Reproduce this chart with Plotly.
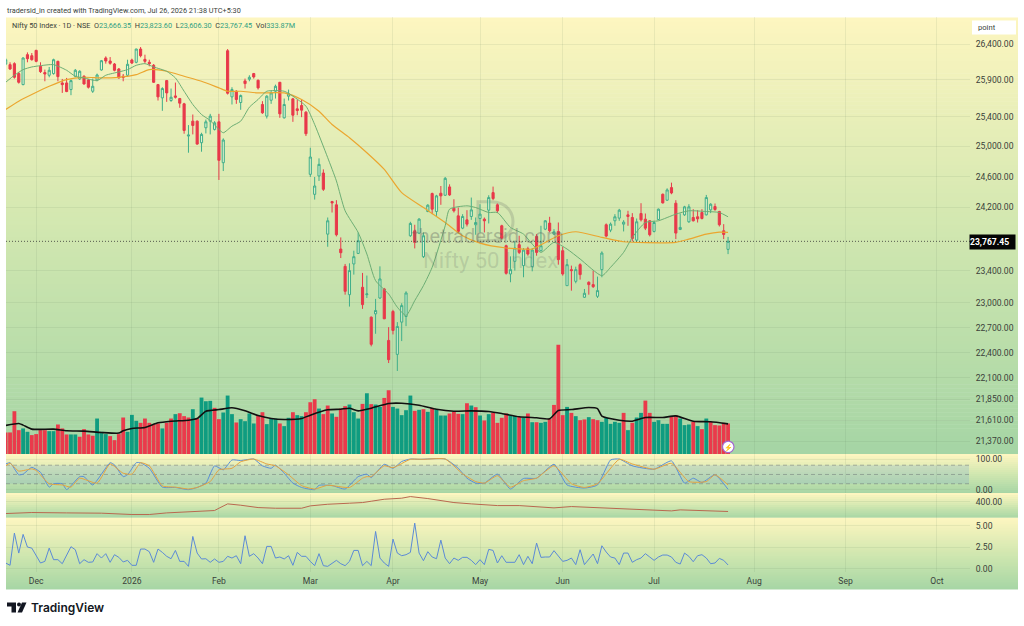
import math
import plotly.graph_objects as go

W, H = 1024, 626
PRICE_TICKS = [26400, 25900, 25400, 25000, 24600, 24200, 23400, 23000, 22700, 22400, 22100, 21850, 21610, 21370]
MONTH_TICKS = [7, 29, 49, 70, 89, 109, 128, 149, 172, 193, 214]
MONTH_LABELS = ["Dec", "2026", "Feb", "Mar", "Apr", "May", "Jun", "Jul", "Aug", "Sep", "Oct"]

opens = [
26120,26112,26126,25988,25836,26251,26237,26311,26089,26002,
25965,25988,26158,25859,25859,25768,25951,25914,25951,25900,
25745,25900,26038,26205,26163,26121,26052,25951,25965,26177,
26145,26330,26186,26145,26103,25836,25654,25891,25618,25681,
25645,25573,25138,25338,25338,25049,25249,25338,25227,25329,
24784,26306,25668,25745,25591,25887,25910,25988,25896,25564,
25406,25622,25745,25868,25383,25677,25641,25505,25550,25460,
24631,24370,24609,24648,23859,24276,24234,23670,23453,23102,
23483,23615,23193,23102,22827,22867,23061,23172,22546,22896,
22379,22767,22835,23838,23901,23872,23574,24148,24380,24148,
24384,24358,24466,24191,24092,23935,24041,24084,23978,24058,
24050,24165,24392,24234,23965,23712,23358,23516,23725,23462,
23674,23449,23830,23649,23922,23999,23859,23893,23649,23213,
23412,23267,23474,23070,23255,23226,23082,23412,23978,23910,
24029,24063,23986,24105,24071,23783,24122,24050,24029,23893,
24046,24371,24294,24457,24255,23918,24105,24016,24071,24080,
24135,24105,24169,24212,24148,23901,23666.35]
highs = [
26205,26145,26145,26011,26214,26283,26274,26320,26145,26043,
26080,26195,26167,25914,25928,25905,26052,26034,25965,25914,
25919,25988,26177,26228,26218,26135,26066,25983,26181,26195,
26334,26358,26251,26181,26121,25845,25800,25900,25782,25864,
25654,25586,25285,25428,25347,25182,25360,25437,25338,25437,
25107,26330,25800,25759,25700,25919,25965,25997,25905,25609,
25691,25754,25836,25873,25645,25768,25654,25632,25632,25473,
24982,24596,24841,24696,24071,24285,24294,23817,23483,23491,
23649,23880,23371,23338,22835,23050,23453,23185,22706,22916,
22767,22997,23144,24016,23978,24063,23880,24242,24392,24363,
24478,24596,24500,24306,24199,24114,24165,24328,24071,24242,
24071,24358,24470,24251,23978,23725,23578,23775,23838,23683,
23699,23683,23859,23965,24037,24080,23922,24007,23699,23545,
23462,23449,23491,23172,23267,23400,23325,23641,23995,24007,
24114,24182,24037,24157,24127,24058,24255,24122,24037,24029,
24186,24380,24448,24522,24294,24122,24221,24242,24178,24165,
24178,24362,24255,24251,24157,23986,23823.60]
lows = [
26105,26038,25919,25850,25827,26145,26168,26145,25997,25882,
25937,25974,25882,25722,25732,25691,25937,25900,25836,25782,
25722,25882,26029,26126,26112,26020,25919,25882,25946,26121,
26131,26214,26131,26089,25859,25618,25478,25600,25600,25645,
25519,25169,24916,25160,25022,24929,25173,25160,25213,24557,
24674,25700,25564,25573,25492,25782,25882,25919,25768,25437,
25374,25573,25645,25383,25374,25618,25329,25419,25392,25138,
24596,24302,24544,24414,23699,24135,23830,23557,23102,22956,
23350,23607,22928,23061,22475,22626,23050,22803,22276,22618,
22182,22538,22718,23825,23678,23859,23557,24139,24114,24092,
24234,24350,24350,24135,23872,23922,23956,24041,23851,23880,
23880,23995,24294,24127,23792,23350,23255,23400,23607,23317,
23586,23391,23586,23641,23910,23880,23851,23474,23337,23213,
23151,23242,23288,23061,23102,23184,23061,23317,23817,23884,
23965,24029,23893,23965,23767,23767,24020,23910,23830,23880,
24037,24251,24285,24371,23796,23910,24092,24003,24020,24007,
24046,24097,24127,24157,23956,23796,23606.30]
closes = [
26180,26052,25937,25868,26205,26195,26181,26158,26015,25983,
26034,26181,25946,25836,25741,25891,26034,26020,25845,25800,
25813,25969,26167,26163,26131,26034,25928,25937,26117,26135,
26330,26237,26158,26126,25868,25668,25782,25722,25663,25663,
25582,25213,25151,25280,25031,25160,25329,25406,25316,24815,
25085,25718,25768,25632,25686,25850,25937,25942,25791,25451,
25677,25722,25813,25437,25564,25709,25419,25482,25487,25169,
24859,24478,24762,24435,24029,24259,23851,23624,23143,23400,
23574,23775,22980,23111,22499,22908,23296,22807,22316,22666,
22714,22968,23123,23995,23754,24050,23838,24229,24178,24350,
24350,24578,24362,24157,23893,24084,23986,24169,24007,24114,
24029,24328,24315,24157,23808,23366,23412,23683,23628,23657,
23607,23657,23628,23712,24029,23901,23889,23537,23358,23474,
23400,23412,23350,23119,23226,23201,23152,23620,23834,23986,
24080,24165,24012,24084,23804,24016,24041,23935,23851,24007,
24178,24259,24427,24388,23872,23944,24208,24208,24029,24054,
24058,24328,24242,24174,23978,23855,23767.45]
bars = list(range(len(closes)))

green_ma_bar = [0,2,4,6,8,11,14,16,18,21,23,26,28,30,32,34,37,39,41,43,45,47,49,50,52,54,56,58,60,64,66,69,71,74,76,78,81,83,85,88,90,92,94,96,98,101,102,106,108,111,113,116,119,121,123,126,129,132,137,139,142,144,147,150,154,157,161,164,166]
green_ma = [25868,25965,26043,26080,26098,26112,26034,25951,25928,25891,25965,26011,26043,26103,26126,26080,26020,25928,25745,25564,25428,25347,25227,25182,25271,25338,25527,25632,25745,25745,25677,25541,25293,24850,24544,24157,23880,23607,23275,23111,22948,22847,23029,23213,23441,23965,24178,24221,24199,24135,24135,23944,23859,23733,23628,23754,23670,23545,23337,23441,23628,23817,24007,24029,24114,24157,24148,24135,24080]
orange_ma_bar = [0,3,6,10,14,18,22,26,30,33,37,41,45,49,51,54,58,64,68,72,75,79,83,87,91,96,101,105,109,115,119,121,127,131,137,142,147,154,157,161,164,166]
orange_ma = [25496,25609,25700,25813,25905,25937,25928,25937,25974,26043,26020,25951,25882,25791,25745,25745,25722,25722,25632,25473,25293,25116,24916,24696,24392,24199,24007,23838,23745,23683,23670,23670,23838,23889,23817,23762,23750,23754,23796,23859,23884,23880]

volumes = [
236,236,468,261,280,243,207,218,261,261,
250,250,323,280,214,214,214,189,272,214,
200,388,243,218,196,152,218,399,243,428,
363,341,388,341,327,334,280,341,388,436,
446,414,399,490,388,617,577,581,505,381,
454,639,436,345,381,359,443,334,417,457,
327,388,388,334,305,396,457,425,414,457,
566,599,497,436,530,443,407,497,523,541,
457,388,548,664,545,541,515,613,697,515,
497,425,479,639,472,483,490,461,505,490,
421,421,443,461,439,436,555,530,512,421,
367,436,450,341,396,443,425,417,407,399,
443,348,348,341,352,385,537,1194,425,515,
450,414,370,378,403,381,370,352,396,330,
352,341,450,261,341,399,450,584,450,352,
370,330,330,407,425,388,316,323,352,305,
272,388,352,316,312,341,334]
volume_dir = list(
"rrrrggrrrr" "ggrrrggrrr" "rgggrrrrgg" "grrrrrgrrg" "rrrgrgggrr"
"gggrggggrr" "gggrggrggr" "rrgrrgrrrg" "ggrgrggrrg" "ggggrgrgrg"
"ggrrrgrgrg" "rgrrrrggrg" "rgrggrrrrg" "rgrrgrrggg" "ggrgrggrrg"
"gggrrgggrg" "rgrrrrr")
vol_ma_bar = [0,3,4,6,8,11,14,18,22,26,27,29,32,35,38,42,44,46,49,52,55,58,61,64,68,70,74,77,79,81,84,88,91,95,99,103,107,111,114,118,122,125,127,130,134,136,137,141,144,147,151,154,158,162,166]
vol_ma = [312,334,316,272,269,272,254,250,236,229,254,280,290,341,359,370,388,468,486,505,472,421,388,378,388,425,483,490,501,472,501,552,555,534,490,468,472,465,443,407,396,385,476,486,508,497,414,370,359,399,399,417,359,352,330]

stoch_k_bar = [0,1,3,4,6,8,10,11,13,14,17,18,20,24,25,27,28,30,31,33,36,39,42,44,46,48,50,52,54,57,59,61,62,64,66,68,71,72,75,78,81,83,84,87,89,91,93,95,101,104,106,108,110,113,116,119,122,126,129,133,136,139,141,144,149,153,156,158,160,163,166]
stoch_k = [84,88,49,51,73,57,9,20,20,1,43,43,16,88,81,43,49,88,88,70,9,8,1,8,22,78,65,97,95,100,78,70,80,54,22,8,1,15,14,3,43,51,40,83,70,92,100,99,100,70,38,22,22,51,3,37,38,83,16,6,16,97,100,78,67,94,22,38,24,49,2]
stoch_d_bar = [0,1,3,6,7,10,13,15,17,21,24,27,29,31,33,36,39,42,44,47,49,52,54,57,60,62,65,68,71,74,79,82,83,84,87,89,93,96,101,105,108,110,113,116,119,122,126,130,133,136,141,144,149,153,157,161,163,166]
stoch_d = [78,86,61,68,63,20,16,9,38,22,84,54,51,88,78,13,9,3,8,27,65,70,91,100,84,78,49,14,3,15,8,38,43,43,78,72,99,99,100,52,27,22,46,9,30,38,78,20,8,20,99,84,67,86,27,27,49,16]

atr_bar = [0,6,14,22,29,33,37,41,45,48,49,51,54,58,62,68,70,74,79,82,84,87,91,93,97,103,107,113,118,126,130,136,138,141,147,153,155,160,166]
atr = [242,256,251,247,229,229,251,260,278,283,314,373,355,323,314,314,346,368,382,391,409,436,450,472,445,391,373,350,350,319,337,319,323,305,296,278,292,283,270]

vol_ratio = [
.66,.39,4.15,1.82,4.0,2.52,2.40,1.51,.66,.85,
2.40,1.05,1.05,.58,1.51,2.56,2.21,.58,1.05,.74,
.78,1.75,1.24,1.75,.74,1.63,1.32,.78,.97,.39,
.39,2.29,2.29,1.98,.74,2.29,1.90,1.44,1.16,2.13,
.85,.85,.27,3.76,1.82,1.13,1.16,.74,1.13,.74,
.85,1.44,1.24,1.51,.58,3.84,1.44,1.75,1.24,.58,
2.60,2.60,1.24,1.36,1.13,1.51,.39,1.90,1.44,1.44,
.85,.35,1.75,.35,.27,.66,.97,.58,.35,.85,
2.13,2.13,.35,.85,.35,4.34,1.24,.66,.27,3.45,
1.82,1.51,1.63,1.90,5.31,1.82,.93,1.98,1.36,1.16,
3.33,1.24,.58,1.24,.97,1.32,1.32,.97,.47,1.05,
.47,2.25,2.13,.66,1.51,.74,.74,.74,1.63,.47,
1.44,.58,2.99,1.32,1.36,1.36,2.10,1.44,.85,.97,
1.24,.47,2.21,.47,1.05,1.71,.58,2.67,1.94,1.36,
1.24,.47,1.82,1.82,.74,1.05,1.24,1.75,1.36,.97,
1.36,1.59,1.59,1.36,.74,.54,1.82,1.44,.81,1.51,
1.63,1.24,.58,.66,1.20,.97,.43]

for name, arr in dict(h=highs, l=lows, c=closes, v=volumes, d=volume_dir, r=vol_ratio).items():
    assert len(arr) == len(opens), (name, len(arr), len(opens))

FONT = "Roboto"
TXT = "#3a3f3a"
RED, GREEN = "#e8394a", "#3fae8a"
VRED, VGREEN = "#ea3a4b", "#0f9c80"
XR = [0.07, 221.6]
SHIFT = 1.5

def px(x): return x / W
def py(y): return 1 - (y + SHIFT) / H

STOPS = [(0, (253, 246, 192)), (.5, (208, 231, 176)), (1, (165, 213, 165))]
def grad(t):
    for (a, ca), (b, cb) in zip(STOPS, STOPS[1:]):
        if t <= b:
            f = (t - a) / (b - a)
            return "rgb(%d,%d,%d)" % tuple(ca[k] + (cb[k] - ca[k]) * f for k in range(3))
    return "rgb(165,213,165)"

shapes = []
for top, bot, step in [(16, 454, 4), (454, 493, 2), (493, 518, 2), (518, 590, 2)]:
    y = top
    while y < bot:
        y2 = min(y + step, bot)
        shapes.append(dict(type="rect", xref="paper", yref="paper", layer="below",
                           x0=px(6), x1=px(1018), y0=py(y2 + (0.6 if y2 < bot else 0)), y1=py(y),
                           fillcolor=grad((y - top) / (bot - top)), line=dict(width=0)))
        y = y2
# stochastic band and levels
shapes.append(dict(type="rect", xref="paper", yref="y3", layer="below", x0=px(6), x1=px(969), y0=20, y1=80,
                   fillcolor="rgba(110,160,215,0.22)", line=dict(width=0)))
for lvl in (20, 50, 80):
    shapes.append(dict(type="line", xref="paper", yref="y3", layer="below", x0=px(6), x1=px(969), y0=lvl, y1=lvl,
                       line=dict(color="rgba(110,120,120,0.65)", width=0.8, dash="4px,3px")))
# watermark logo outline
shapes.append(dict(type="path", xref="paper", yref="paper", layer="below", fillcolor="rgba(0,0,0,0)",
                   line=dict(color="rgba(95,100,95,0.22)", width=3),
                   path=f"M {px(478)} {py(201)} L {px(490)} {py(201)} C {px(510)} {py(201)} {px(513)} {py(215)} {px(513)} {py(221)} "
                        f"C {px(513)} {py(228)} {px(508)} {py(240)} {px(490)} {py(240)} L {px(478)} {py(240)} Z"))
# "point" box
shapes.append(dict(type="rect", xref="paper", yref="paper", x0=px(972), x1=px(1016), y0=py(33), y1=py(19),
                   fillcolor="white", line=dict(width=0)))
# flash badge
shapes.append(dict(type="circle", xref="paper", yref="paper", x0=px(722.5), x1=px(734), y0=py(452.5), y1=py(441),
                   fillcolor="white", line=dict(color="#a368cf", width=1.2)))
# logo
INK = "#131722"
shapes.append(dict(type="path", xref="paper", yref="paper", fillcolor=INK, line=dict(width=0),
                   path=f"M {px(7)} {py(603)} L {px(16)} {py(603)} L {px(16)} {py(613)} L {px(11.5)} {py(613)} L {px(11.5)} {py(607)} L {px(7)} {py(607)} Z"))
shapes.append(dict(type="circle", xref="paper", yref="paper", fillcolor=INK, line=dict(width=0),
                   x0=px(17), x1=px(21), y0=py(607), y1=py(603)))
shapes.append(dict(type="path", xref="paper", yref="paper", fillcolor=INK, line=dict(width=0),
                   path=f"M {px(22)} {py(603)} L {px(26.5)} {py(603)} L {px(22)} {py(613)} L {px(17.5)} {py(613)} Z"))

fig = go.Figure()
fig.add_trace(go.Bar(x=bars, y=volumes, width=0.88, xaxis="x", yaxis="y",
                     marker=dict(color=[VRED if d == "r" else VGREEN for d in volume_dir], line=dict(width=0))))
fig.add_trace(go.Scatter(x=vol_ma_bar, y=vol_ma, mode="lines", xaxis="x", yaxis="y",
                         line=dict(color="#111111", width=1.6, shape="spline", smoothing=0.5)))
fig.add_trace(go.Scatter(x=XR, y=[closes[-1], closes[-1]], mode="lines", xaxis="x", yaxis="y2",
                         line=dict(color="#333", width=0.8, dash="1px,2px")))
fig.add_trace(go.Scatter(x=orange_ma_bar, y=orange_ma, mode="lines", xaxis="x", yaxis="y2",
                         line=dict(color="#eba62f", width=1.2, shape="spline", smoothing=0.6)))
fig.add_trace(go.Scatter(x=green_ma_bar, y=green_ma, mode="lines", xaxis="x", yaxis="y2",
                         line=dict(color="#6cad74", width=1, shape="spline", smoothing=0.6)))
fig.add_trace(go.Candlestick(x=bars, open=opens, high=highs, low=lows, close=closes, xaxis="x", yaxis="y2",
                             whiskerwidth=0,
                             increasing=dict(line=dict(color=GREEN, width=1), fillcolor="rgba(225,245,225,0.55)"),
                             decreasing=dict(line=dict(color=RED, width=1), fillcolor=RED)))
fig.add_trace(go.Scatter(x=stoch_k_bar, y=stoch_k, mode="lines", xaxis="x", yaxis="y3",
                         line=dict(color="#5b8fd6", width=1, shape="spline", smoothing=0.5)))
fig.add_trace(go.Scatter(x=stoch_d_bar, y=stoch_d, mode="lines", xaxis="x", yaxis="y3",
                         line=dict(color="#e5a33e", width=1, shape="spline", smoothing=0.5)))
fig.add_trace(go.Scatter(x=atr_bar, y=atr, mode="lines", xaxis="x", yaxis="y4", line=dict(color="#b9684f", width=1)))
fig.add_trace(go.Scatter(x=bars, y=vol_ratio, mode="lines", xaxis="x", yaxis="y5", line=dict(color="#5b8ad6", width=1)))

GRID = "rgba(90,120,90,0.10)"
tick = dict(color=TXT, size=8.6, family=FONT)
def yax(dom_top, dom_bot, rng, vals, **kw):
    d = dict(domain=[py(dom_bot), py(dom_top)], range=rng, tickvals=vals, tickformat=",.2f", side="right",
             anchor="x", showgrid=True, gridcolor=GRID, gridwidth=1, zeroline=False, showline=False,
             ticks="outside", ticklen=3, tickcolor="rgba(0,0,0,0)", tickfont=tick, fixedrange=True)
    d.update(kw)
    return d

anns = []
def note(x, y, text, size=8, color=TXT, xanchor="left", **kw):
    anns.append(dict(xref="paper", yref="paper", x=px(x), y=py(y), text=text, showarrow=False, xanchor=xanchor,
                     yanchor="middle", align="left", font=dict(family=FONT, size=size, color=color), borderpad=0, **kw))

note(6, 9, "tradersid_in created with TradingView.com, Jul 26, 2026 21:38 UTC+5:30", size=7.3)
G = "#2f9f82"
note(11, 24, "Nifty 50 Index · 1D · NSE  "
     f"O<span style='color:{G}'>23,666.35</span>  H<span style='color:{G}'>23,823.60</span>  "
     f"L<span style='color:{G}'>23,606.30</span>  C<span style='color:{G}'>23,767.45</span>  "
     f"Vol<span style='color:{G}'>333.87M</span>", size=7.3)
note(977, 26, "point", size=7.6)
note(992.5, 241, "<b>23,767.45</b>", size=8.6, color="white", xanchor="center", bgcolor="#050505", width=45, height=14)
note(488, 235, "thetradersid.com", size=20, color="rgba(95,100,95,0.38)", xanchor="center")
note(490, 260, "Nifty 50 Index", size=22, color="rgba(95,100,95,0.20)", xanchor="center")
note(728.2, 447, "⚡", size=7, color="#a368cf", xanchor="center")
anns.append(dict(xref="paper", yref="paper", x=px(29), y=py(608), text="TradingView", showarrow=False,
                 xanchor="left", yanchor="middle", font=dict(family="Inter", size=12, weight=600, color=INK)))

p_top = 26400 * math.exp((42.7 - 16) / 1884)
p_bot = 26400 * math.exp(-(454 - 42.7) / 1884)

fig.update_layout(
    width=W, height=H, autosize=False, margin=dict(l=0, r=0, t=0, b=0, pad=0),
    paper_bgcolor="white", plot_bgcolor="rgba(0,0,0,0)", showlegend=False, barmode="overlay",
    shapes=shapes, annotations=anns, hovermode=False,
    xaxis=dict(domain=[px(6), px(970)], range=XR, anchor="y5", tickmode="array", tickvals=MONTH_TICKS,
               ticktext=MONTH_LABELS, showgrid=True, gridcolor=GRID, zeroline=False, showline=False,
               ticks="outside", ticklen=1.5, tickcolor="rgba(0,0,0,0)", tickfont=tick,
               rangeslider=dict(visible=False), fixedrange=True),
    yaxis=dict(domain=[py(454), py(16)], range=[0, 4770], visible=False, anchor="x", fixedrange=True),
    yaxis2=yax(16, 454, [math.log10(p_bot), math.log10(p_top)], PRICE_TICKS, type="log", overlaying="y"),
    yaxis3=yax(454, 493, [-9.7, 116.1], [0, 100]),
    yaxis4=yax(494, 518, [184, 508], [400]),
    yaxis5=yax(518, 572, [-0.35, 5.93], [0, 2.5, 5]),
)
fig.write_html("out.html", config={"displayModeBar": False},
               post_script="document.body.style.margin='0';document.documentElement.style.overflow='hidden';")
